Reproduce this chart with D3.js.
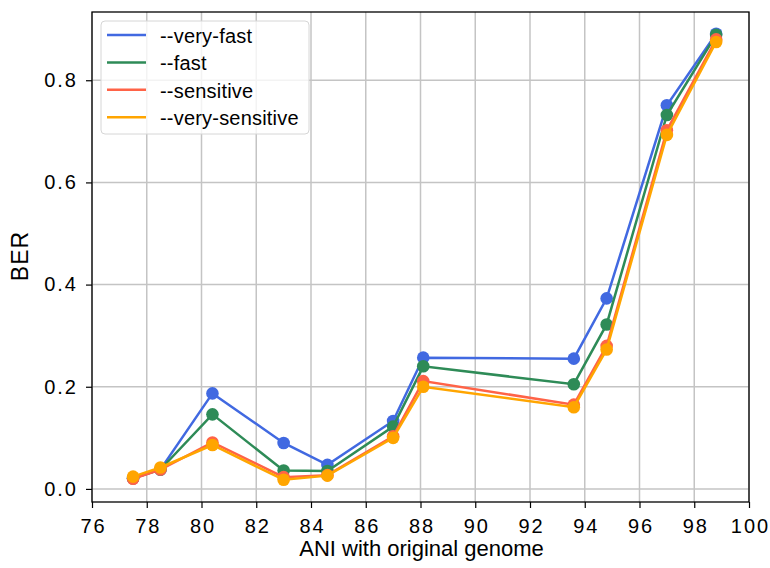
<!DOCTYPE html>
<html>
<head>
<meta charset="utf-8">
<script src="https://cdn.jsdelivr.net/npm/d3@7"></script>
<style>
  body { margin: 0; background: #fff; }
  text { font-family: "Liberation Sans", Arial, sans-serif; fill: #000; }
</style>
</head>
<body>
<div id="chart"></div>
<script>
var svgWidth = 770;
var svgHeight = 568;

var margin = { top: 12, right: 21, bottom: 66, left: 92 };
var width = svgWidth - margin.left - margin.right;
var height = svgHeight - margin.top - margin.bottom;

// data
var ani = [77.5, 78.5, 80.4, 83.0, 84.6, 87.0, 88.1, 93.6, 94.8, 97.0, 98.8];
var veryFast = [0.021, 0.038, 0.187, 0.090, 0.047, 0.133, 0.257, 0.255, 0.373, 0.751, 0.891];
var fast = [0.021, 0.038, 0.146, 0.036, 0.035, 0.122, 0.240, 0.205, 0.322, 0.732, 0.889];
var sensitive = [0.020, 0.038, 0.091, 0.023, 0.027, 0.103, 0.211, 0.165, 0.280, 0.702, 0.880];
var verySensitive = [0.024, 0.042, 0.086, 0.018, 0.026, 0.100, 0.200, 0.160, 0.273, 0.693, 0.875];
var seriesNames = ["--very-fast", "--fast", "--sensitive", "--very-sensitive"];
var seriesColors = ["#4169e1", "#2e8b57", "#ff6347", "#ffa500"];
var xTicks = [76, 78, 80, 82, 84, 86, 88, 90, 92, 94, 96, 98, 100];
var yTicks = [0.0, 0.2, 0.4, 0.6, 0.8];

var allSeries = [veryFast, fast, sensitive, verySensitive];

var svg = d3.select("#chart")
  .append("svg")
  .attr("width", svgWidth)
  .attr("height", svgHeight);

var chartGroup = svg.append("g")
  .attr("transform", `translate(${margin.left}, ${margin.top})`);

var xScale = d3.scaleLinear().domain([76, 100]).range([0, width]);
var yScale = d3.scaleLinear().domain([-0.0256, 0.9336]).range([height, 0]);

// grid
chartGroup.append("g")
  .selectAll("line")
  .data(xTicks)
  .enter()
  .append("line")
  .attr("x1", d => xScale(d)).attr("x2", d => xScale(d))
  .attr("y1", 0).attr("y2", height)
  .attr("stroke", "#c4c4c4").attr("stroke-width", 1.5);

chartGroup.append("g")
  .selectAll("line")
  .data(yTicks)
  .enter()
  .append("line")
  .attr("x1", 0).attr("x2", width)
  .attr("y1", d => yScale(d)).attr("y2", d => yScale(d))
  .attr("stroke", "#c4c4c4").attr("stroke-width", 1.5);

// series
var line = d3.line()
  .x((d, i) => xScale(ani[i]))
  .y(d => yScale(d));

allSeries.forEach(function(values, s) {
  var g = chartGroup.append("g");
  g.append("path")
    .datum(values)
    .attr("d", line)
    .attr("fill", "none")
    .attr("stroke", seriesColors[s])
    .attr("stroke-width", 2.5);
  g.selectAll("circle")
    .data(values)
    .enter()
    .append("circle")
    .attr("cx", (d, i) => xScale(ani[i]))
    .attr("cy", d => yScale(d))
    .attr("r", 6.3)
    .attr("fill", seriesColors[s]);
});

// axes
var bottomAxis = d3.axisBottom(xScale).tickValues(xTicks).tickSize(6).tickPadding(11);
var leftAxis = d3.axisLeft(yScale).tickValues(yTicks).tickSize(6).tickPadding(8)
  .tickFormat(d3.format(".1f"));

var xAxis = chartGroup.append("g")
  .attr("transform", `translate(0, ${height})`)
  .call(bottomAxis);
var yAxis = chartGroup.append("g").call(leftAxis);

[xAxis, yAxis].forEach(function(a) {
  a.select(".domain").remove();
  a.selectAll("line").attr("stroke", "#000").attr("stroke-width", 1.2);
  a.selectAll("text").attr("font-size", 20).attr("fill", "#000")
    .style("letter-spacing", "2px")
    .style("font-family", "'Liberation Sans', Arial, sans-serif");
});
xAxis.selectAll("text").attr("dx", "1px");

chartGroup.append("rect")
  .attr("width", width)
  .attr("height", height)
  .attr("fill", "none")
  .attr("stroke", "#000")
  .attr("stroke-width", 1.3);

// labels
chartGroup.append("text")
  .attr("x", width / 2 + 1)
  .attr("y", height + 54)
  .attr("text-anchor", "middle")
  .attr("font-size", 22)
  .text("ANI with original genome");

chartGroup.append("text")
  .attr("transform", "rotate(-90)")
  .attr("x", -height / 2 + 1)
  .attr("y", -64)
  .attr("text-anchor", "middle")
  .attr("font-size", 23)
  .style("letter-spacing", "1px")
  .text("BER");

// legend
var legend = chartGroup.append("g")
  .attr("transform", "translate(9, 9)");

legend.append("rect")
  .attr("width", 208)
  .attr("height", 113)
  .attr("rx", 4)
  .attr("fill", "#fff")
  .attr("fill-opacity", 0.8)
  .attr("stroke", "#d6d6d6");

seriesNames.forEach(function(name, i) {
  var row = legend.append("g")
    .attr("transform", `translate(0, ${14 + i * 27.4})`);
  row.append("line")
    .attr("x1", 6).attr("x2", 45)
    .attr("y1", 0).attr("y2", 0)
    .attr("stroke", seriesColors[i])
    .attr("stroke-width", 2.5);
  row.append("text")
    .attr("x", 59)
    .attr("y", 8)
    .attr("font-size", 20)
    .style("letter-spacing", "0.2px")
    .text(name);
});
</script>
</body>
</html>
